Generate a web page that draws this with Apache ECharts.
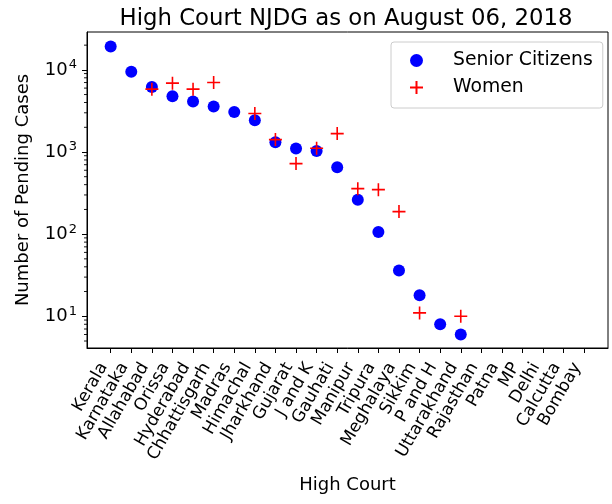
<!DOCTYPE html>
<html>
<head>
<meta charset="utf-8">
<script src="https://cdn.jsdelivr.net/npm/echarts@6/dist/echarts.min.js"></script>
<style>
  html, body { margin: 0; padding: 0; background: #fff; }
  #chart { width: 612px; height: 504px; }
</style>
</head>
<body>
<div id="chart"></div>
<script>
// high courts, in plotting order
var courts = ['Kerala', 'Karnataka', 'Allahabad', 'Orissa', 'Hyderabad', 'Chhattisgarh',
  'Madras', 'Himachal', 'Jharkhand', 'Gujarat', 'J and K', 'Gauhati', 'Manipur', 'Tripura',
  'Meghalaya', 'Sikkim', 'P and H', 'Uttarakhand', 'Rajasthan', 'Patna', 'MP', 'Delhi',
  'Calcutta', 'Bombay'];

// pending cases (null = nothing plotted)
var seniorCitizens = [19300, 9460, 6200, 4780, 4110, 3570, 3070, 2440, 1310, 1100, 1030, 650,
  262, 106, 36, 18, 8, 6, null, null, null, null, null, null];
var women = [null, null, 5820, 6890, 5820, 7020, null, 2940, 1415, 722, 1110, 1675,
  358, 348, 188, 11, null, 10, null, null, null, null, null, null];

// log axis ticks
var majorTicks = [10, 100, 1000, 10000];
var minorTicks = [5, 6, 7, 8, 9, 20, 30, 40, 50, 60, 70, 80, 90, 200, 300, 400, 500, 600, 700, 800, 900,
  2000, 3000, 4000, 5000, 6000, 7000, 8000, 9000, 20000];

var font = 'DejaVu Sans';

function pairs(arr) {
  var out = [];
  arr.forEach(function (v, i) { if (v != null) out.push([i, v]); });
  return out;
}

var idx = courts.map(function (c, i) { return i; });
var xMin = -1.15, xMax = 24.15;
var yMin = 4.11, yMax = 28900;

var chart = echarts.init(document.getElementById('chart'));
chart.setOption({
  animation: false,
  backgroundColor: '#fff',
  textStyle: { fontFamily: font },
  title: {
    text: 'High Court NJDG as on August 06, 2018',
    left: 341, top: 3, textAlign: 'center',
    textStyle: { fontFamily: font, fontSize: 22.8, fontWeight: 'normal', color: '#000' }
  },
  legend: {
    orient: 'vertical', left: 391, top: 42,
    padding: [9, 10, 11, 18],
    itemGap: 8, itemWidth: 13, itemHeight: 13,
    borderColor: '#cccccc', borderWidth: 1, borderRadius: 3,
    textStyle: { fontFamily: font, fontSize: 18.8, color: '#000', padding: [0, 0, 0, 25] },
    data: ['Senior Citizens', 'Women']
  },
  grid: {
    left: 87, top: 32, width: 521, height: 316,
    show: true, borderColor: '#000', borderWidth: 1, backgroundColor: 'transparent'
  },
  xAxis: {
    type: 'value', min: xMin, max: xMax,
    name: 'High Court', nameLocation: 'middle', nameGap: 128,
    nameTextStyle: { fontFamily: font, fontSize: 18, color: '#000' },
    axisLine: { onZero: false, lineStyle: { color: '#000', width: 1 } },
    axisTick: { customValues: idx, length: 5, lineStyle: { color: '#000', width: 1 } },
    axisLabel: {
      customValues: idx, rotate: 60, margin: 4,
      fontFamily: font, fontSize: 17, color: '#000',
      padding: [0, 14, 0, 0],
      formatter: function (v) { return courts[Math.round(v)] || ''; }
    },
    splitLine: { show: false }
  },
  yAxis: {
    type: 'log', logBase: 10, min: yMin, max: yMax,
    name: 'Number of Pending Cases', nameLocation: 'middle', nameGap: 55,
    nameTextStyle: { fontFamily: font, fontSize: 18, color: '#000' },
    axisLine: { onZero: false, lineStyle: { color: '#000', width: 1 } },
    axisTick: { customValues: majorTicks, length: 5, lineStyle: { color: '#000', width: 1 } },
    axisLabel: {
      customValues: majorTicks, margin: 10,
      fontFamily: font, fontSize: 18, color: '#000',
      formatter: function (v) {
        var p = Math.round(Math.log10(v));
        return '{b|10}{s|' + p + '}';
      },
      rich: {
        b: { fontFamily: font, fontSize: 18, color: '#000' },
        s: { fontFamily: font, fontSize: 13, color: '#000', padding: [0, 0, 10, 1] }
      }
    },
    splitLine: { show: false }
  },
  series: [{
    name: 'Senior Citizens', type: 'scatter',
    symbol: 'circle', symbolSize: 12,
    itemStyle: { color: '#0000ff', opacity: 1 },
    data: pairs(seniorCitizens), z: 2
  }, {
    name: 'Women', type: 'scatter',
    symbol: 'path://M0,6 L12,6 M6,0 L6,12', symbolSize: 13,
    itemStyle: { color: 'transparent', borderColor: '#ff0000', borderWidth: 1.6, opacity: 1 },
    data: pairs(women), z: 3
  }, {
    // minor ticks of the log axis: short marks just left of the frame
    name: 'minor', type: 'scatter', silent: true, clip: false,
    symbol: 'rect', symbolSize: [3, 0.9], symbolOffset: [-1.5, 0],
    itemStyle: { color: '#000', opacity: 1 },
    data: minorTicks.map(function (v) { return [xMin, v]; }), z: 4
  }]
});
</script>
</body>
</html>
